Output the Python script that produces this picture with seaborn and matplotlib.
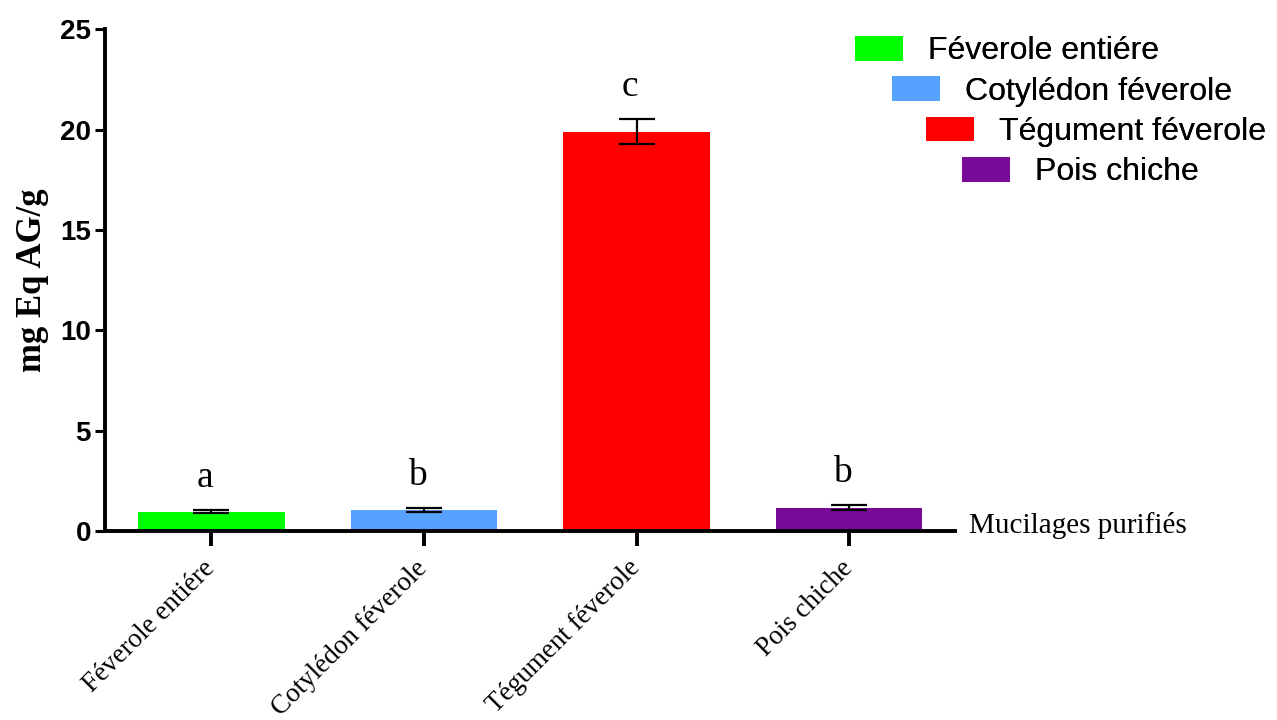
import matplotlib
matplotlib.use("Agg")
import matplotlib.pyplot as plt
import seaborn as sns
import pandas as pd
from matplotlib.patches import Patch

# Samples and measured content (mean ± SE)
categories = ["Féverole entiére", "Cotylédon féverole", "Tégument féverole", "Pois chiche"]
means = [0.97, 1.06, 19.9, 1.16]
errors = [0.08, 0.09, 0.6, 0.12]
letters = ["a", "b", "c", "b"]
colors = ["#00FF00", "#58A2FF", "#FF0000", "#780A98"]
yticks = [0, 5, 10, 15, 20, 25]

sns.set_theme(style="white")
plt.rcParams["font.family"] = ["Liberation Sans", "DejaVu Sans"]
plt.rcParams["text.color"] = "black"
plt.rcParams["axes.labelcolor"] = "black"
plt.rcParams["xtick.color"] = "black"
plt.rcParams["ytick.color"] = "black"

df = pd.DataFrame({"sample": categories, "value": means})

fig = plt.figure(figsize=(12.77, 7.2), dpi=100)
ax = fig.add_axes([0.0822, 0.2625, 0.666, 0.697])

sns.barplot(data=df, x="sample", y="value", hue="sample", palette=colors,
            order=categories, hue_order=categories, width=0.69, saturation=1,
            errorbar=None, legend=False, ax=ax, edgecolor="none")

ax.errorbar(range(len(categories)), means, yerr=errors, fmt="none",
            ecolor="black", elinewidth=1.6, capsize=13, capthick=1.6, zorder=5)

# Significance letters above each bar
for i, (m, e, lt) in enumerate(zip(means, errors, letters)):
    ax.text(i - 0.03, m + e + 1.15, lt, ha="center", va="baseline",
            fontsize=27, family="Liberation Serif")

ax.set_xlim(-0.5, 3.5)
ax.set_ylim(0, 25)
ax.set_yticks(yticks)
ax.set_yticklabels([str(t) for t in yticks], fontsize=20, fontweight="bold",
                   family="Liberation Sans")
ax.set_xticks(range(len(categories)))
ax.set_xticklabels(categories, rotation=45, ha="right", va="center",
                   rotation_mode="anchor", fontsize=19.5, family="Liberation Serif")
ax.set_xlabel("")
ax.set_ylabel("mg Eq AG/g", fontsize=25, fontweight="bold", family="Liberation Serif",
              labelpad=8)

for side in ["top", "right"]:
    ax.spines[side].set_visible(False)
for side in ["left", "bottom"]:
    ax.spines[side].set_linewidth(2.8)
    ax.spines[side].set_color("black")
ax.tick_params(axis="y", direction="out", length=7, width=2.2, pad=3, left=True)
ax.tick_params(axis="x", direction="out", length=11, width=2.8, pad=13, bottom=True)

ax.text(1.016, 0.01, "Mucilages purifiés", transform=ax.transAxes, ha="left",
        va="center", fontsize=21, family="Liberation Serif")

# Staggered legend entries
positions = [(0.6695, 0.950), (0.6985, 0.894), (0.725, 0.838), (0.7535, 0.782)]
for lab, col, (lx, ly) in zip(categories, colors, positions):
    leg = fig.legend(handles=[Patch(facecolor=col, edgecolor="none", label=lab)],
                     loc="upper left", bbox_to_anchor=(lx, ly), frameon=False,
                     handlelength=1.5, handleheight=0.81,
                     handletextpad=0.78, borderaxespad=0, borderpad=0,
                     prop={"family": "Liberation Sans", "size": 23})
    fig.add_artist(leg)

fig.savefig("out.png", dpi=100)
